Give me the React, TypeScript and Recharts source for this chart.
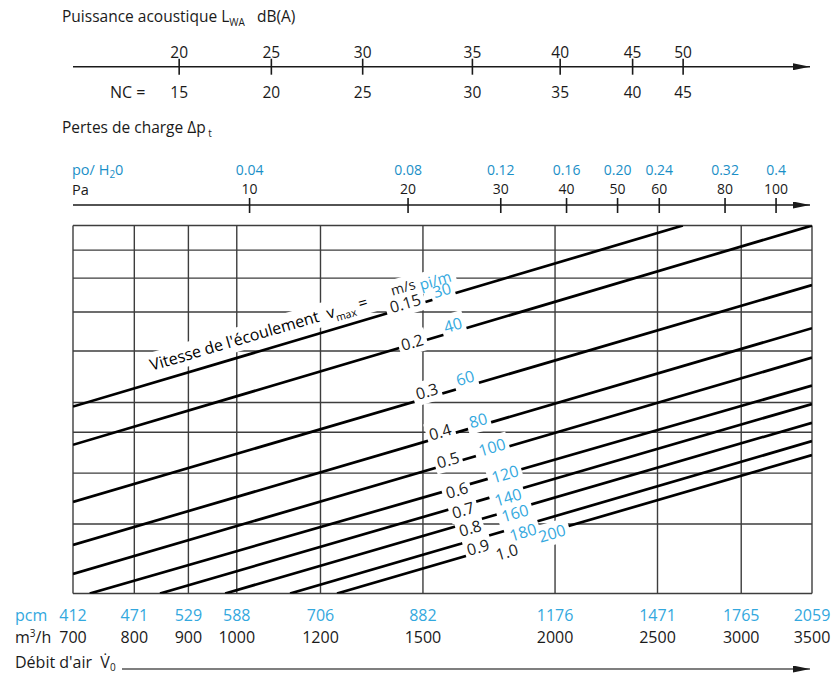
import React from 'react';
import { LineChart, Line, XAxis, YAxis, CartesianGrid, ReferenceDot } from 'recharts';

const FONT = '"Open Sans", "Noto Sans", sans-serif';
const INK = '#1a1a1a';
const GRID = '#3d3d3d';
const BLUE = '#33a8de';
const BLUE_DARK = '#1b8fc7';
const ANGLE = -16.4;

// Débit d'air (m3/h) and the matching pcm labels
const flowTicks = [700, 800, 900, 1000, 1200, 1500, 2000, 2500, 3000, 3500];
const pcmLabels = [412, 471, 529, 588, 706, 882, 1176, 1471, 1765, 2059];

// Pertes de charge: Pa and po H2O
const paTicks = [10, 20, 30, 40, 50, 60, 80, 100];
const inchLabels = ['0.04', '0.08', '0.12', '0.16', '0.20', '0.24', '0.32', '0.4'];

// Puissance acoustique, read against the pressure scale
const lwaLabels = [20, 25, 30, 35, 40, 45, 50];
const ncLabels = [15, 20, 25, 30, 35, 40, 45];
const lwaAtPa = [7.35, 11.0, 16.4, 26.5, 38.9, 53.4, 66.6];

// horizontal rows of the nomogram (relative units, bottom = 0, top = 100)
const rowGrid = [0, 18.9, 32.7, 43.8, 51.9, 65.9, 76.5, 85.7, 93.3, 100];

// velocity lines
const velocityMs = ['0.15', '0.2', '0.3', '0.4', '0.5', '0.6', '0.7', '0.8', '0.9', '1.0'];
const velocityFpm = ['30', '40', '60', '80', '100', '120', '140', '160', '180', '200'];
const startFlow = [700, 700, 700, 700, 700, 726, 846, 975, 1123, 1244];
const startRow = [50.8, 40.4, 24.9, 13.2, 5.3, 0, 0, 0, 0, 0];
const endFlow = [2642, 3500, 3500, 3500, 3500, 3500, 3500, 3500, 3500, 3500];
const endRow = [100, 100, 83.8, 72.1, 64.1, 56.5, 51.5, 46.4, 41.4, 37.6];

// where the labels sit on the lines
const msLabelFlow = [1443, 1465, 1513, 1557, 1584, 1615, 1637, 1662, 1691, 1801];
const msLabelRow = [78.9, 68.3, 55.0, 43.9, 36.3, 28.1, 22.7, 17.8, 12.6, 11.3];
const fpmLabelFlow = [1563, 1601, 1644, 1691, 1743, 1793, 1805, 1833, 1865, 1987];
const fpmLabelRow = [82.5, 73.0, 58.6, 47.1, 39.8, 32.5, 26.2, 21.9, 16.7, 16.4];

const flowKeys = Array.from(new Set([...startFlow, ...endFlow])).sort((a, b) => a - b);
const lineTable = flowKeys.map((q) => {
  const row: Record<string, number> = { q };
  velocityMs.forEach((_, i) => {
    if (startFlow[i] === q) row['v' + i] = startRow[i];
    if (endFlow[i] === q) row['v' + i] = endRow[i];
  });
  return row;
});

const lwaData = lwaAtPa.map((pa, i) => ({ pa, lwa: lwaLabels[i] }));
const paData = paTicks.map((pa) => ({ pa }));

// all labels: text, colour, size, anchor
type Lbl = { text: string; color: string; size: number; q: number; r: number };
const labels: Lbl[] = [
  { text: 'm/s', color: INK, size: 14, q: 1436, r: 83.3 },
  { text: 'pi/m', color: BLUE, size: 15, q: 1540, r: 85.2 },
  ...velocityMs.map((t, i) => ({ text: t, color: INK, size: 16, q: msLabelFlow[i], r: msLabelRow[i] })),
  ...velocityFpm.map((t, i) => ({ text: t, color: BLUE, size: 16, q: fpmLabelFlow[i], r: fpmLabelRow[i] })),
];

// first pass paints a white box, second pass the text
function rotatedLabel(l: Lbl, box: boolean) {
  return (p: any) => (
    <text
      x={p.cx}
      y={p.cy}
      transform={`rotate(${ANGLE} ${p.cx} ${p.cy})`}
      textAnchor="middle"
      dominantBaseline="central"
      fill={box ? '#fff' : l.color}
      fontSize={l.size}
      fontFamily={FONT}
      filter={box ? 'url(#boxOnly)' : undefined}
    >
      {l.text}
    </text>
  );
}

function titleLabel(box: boolean) {
  return (p: any) => (
    <text
      x={p.cx}
      y={p.cy}
      transform={`rotate(${ANGLE} ${p.cx} ${p.cy})`}
      textAnchor="start"
      fill={box ? '#fff' : '#000'}
      fontSize={16}
      fontFamily={FONT}
      filter={box ? 'url(#titleBox)' : undefined}
    >
      {"Vitesse de l'écoulement\u00A0\u00A0v"}
      <tspan fontSize={10.5} dy={5}>max</tspan>
      <tspan dy={-5}>{'\u00A0=\u00A0'}</tspan>
    </text>
  );
}

function FlowTick(p: any) {
  const i = flowTicks.indexOf(p.payload.value);
  return (
    <g fontFamily={FONT} fontSize={16} textAnchor="middle">
      <text x={p.x} y={p.y + 21.5} dominantBaseline="central" fill={BLUE}>{pcmLabels[i]}</text>
      <text x={p.x} y={p.y + 43} dominantBaseline="central" fill={INK}>{p.payload.value}</text>
    </g>
  );
}

function PaTick(p: any) {
  const i = paTicks.indexOf(p.payload.value);
  return (
    <g fontFamily={FONT} fontSize={14} textAnchor="middle">
      <line x1={p.x} x2={p.x} y1={p.y - 7} y2={p.y + 8} stroke={INK} strokeWidth={1.6} />
      <text x={p.x} y={p.y - 35.5} dominantBaseline="central" fill={BLUE_DARK}>{inchLabels[i]}</text>
      <text x={p.x} y={p.y - 16.5} dominantBaseline="central" fill={INK}>{p.payload.value}</text>
    </g>
  );
}

function LwaTick(p: any) {
  const i = lwaAtPa.indexOf(p.payload.value);
  return (
    <g fontFamily={FONT} fontSize={15.5} textAnchor="middle" fill={INK}>
      <line x1={p.x} x2={p.x} y1={p.y - 8} y2={p.y + 8} stroke={INK} strokeWidth={1.6} />
      <text x={p.x} y={p.y - 15} dominantBaseline="central">{lwaLabels[i]}</text>
      <text x={p.x} y={p.y + 25} dominantBaseline="central">{ncLabels[i]}</text>
    </g>
  );
}

function ArrowDefs({ id }: { id: string }) {
  return (
    <defs>
      <marker id={id} viewBox="0 0 17 7" refX="17" refY="3.5" markerWidth="17" markerHeight="7" markerUnits="userSpaceOnUse" orient="auto">
        <path d="M0,0 L17,3.5 L0,7 z" fill={INK} />
      </marker>
    </defs>
  );
}

const txt = (left: number, centerY: number, size = 16, color = INK): React.CSSProperties => ({
  position: 'absolute',
  left,
  top: centerY - 10,
  lineHeight: '20px',
  fontSize: size,
  color,
  whiteSpace: 'nowrap',
  fontFamily: FONT,
});

const sub: React.CSSProperties = { fontSize: 10, position: 'relative', top: 4 };

export default function App() {
  return (
    <div style={{ position: 'absolute', left: 0, top: 0, width: 835, height: 675, background: '#fff', overflow: 'hidden' }}>
      <div style={txt(62, 16, 15.5)}>
        Puissance acoustique L<span style={sub}>WA</span>&nbsp;&nbsp; dB(A)
      </div>
      <div style={txt(110, 91.7, 16)}>NC =</div>
      <div style={txt(62, 127, 15.5)}>
        Pertes de charge Δp<span style={sub}>&nbsp;t</span>
      </div>
      <div style={txt(72, 169.5, 14.5, BLUE_DARK)}>
        po/ H<span style={{ fontSize: 10, position: 'relative', top: 3 }}>2</span>0
      </div>
      <div style={txt(72, 189.5, 14.5)}>Pa</div>
      <div style={txt(15, 615, 16, BLUE)}>pcm</div>
      <div style={txt(15, 637, 16)}>
        m<span style={{ fontSize: 10, position: 'relative', top: -6 }}>3</span>/h
      </div>
      <div style={txt(15, 662, 16)}>
        Débit d'air&nbsp; V̇<span style={{ fontSize: 10, position: 'relative', top: 3 }}>0</span>
      </div>

      {/* Puissance acoustique / NC scale */}
      <div style={{ position: 'absolute', left: 0, top: 28 }}>
        <LineChart width={835} height={80} data={lwaData} margin={{ top: 0, right: 25, bottom: 0, left: 73 }}>
          <ArrowDefs id="arrowLwa" />
          <XAxis
            dataKey="pa"
            type="number"
            scale="log"
            domain={[4.62, 116]}
            allowDataOverflow
            ticks={lwaAtPa}
            interval={0}
            height={41.3}
            tickSize={0}
            tickMargin={0}
            tickLine={false}
            axisLine={{ stroke: INK, strokeWidth: 1.6, markerEnd: 'url(#arrowLwa)' }}
            tick={(p: any) => <LwaTick {...p} />}
          />
          <YAxis hide />
        </LineChart>
      </div>

      {/* pressure scale */}
      <div style={{ position: 'absolute', left: 0, top: 140 }}>
        <LineChart width={835} height={80} data={paData} margin={{ top: 0, right: 25, bottom: 0, left: 73 }}>
          <ArrowDefs id="arrowPa" />
          <XAxis
            dataKey="pa"
            type="number"
            scale="log"
            domain={[4.62, 116]}
            allowDataOverflow
            ticks={paTicks}
            interval={0}
            height={15}
            tickSize={0}
            tickMargin={0}
            tickLine={false}
            axisLine={{ stroke: INK, strokeWidth: 1.6, markerEnd: 'url(#arrowPa)' }}
            tick={(p: any) => <PaTick {...p} />}
          />
          <YAxis hide />
        </LineChart>
      </div>

      {/* nomogram */}
      <div style={{ position: 'absolute', left: 0, top: 208 }}>
        <LineChart width={835} height={460} data={lineTable} margin={{ top: 17.5, right: 23, bottom: 0, left: 73 }}>
          <defs>
            <filter id="boxOnly" x="-0.12" y="0" width="1.24" height="1">
              <feFlood floodColor="#ffffff" />
            </filter>
            <filter id="titleBox" x="-0.01" y="0" width="1.02" height="0.92">
              <feFlood floodColor="#ffffff" />
            </filter>
          </defs>
          <CartesianGrid stroke={GRID} strokeWidth={1.4} horizontalValues={rowGrid} verticalValues={flowTicks} />
          <XAxis
            dataKey="q"
            type="number"
            scale="log"
            domain={[700, 3500]}
            allowDataOverflow
            ticks={flowTicks}
            interval={0}
            height={74.5}
            tickSize={0}
            tickMargin={0}
            tickLine={false}
            axisLine={false}
            tick={(p: any) => <FlowTick {...p} />}
          />
          <YAxis hide type="number" domain={[0, 100]} ticks={rowGrid} allowDataOverflow />
          {velocityMs.map((v, i) => (
            <Line
              key={v}
              type="linear"
              dataKey={'v' + i}
              stroke="#000"
              strokeWidth={2.7}
              dot={false}
              activeDot={false}
              connectNulls
              isAnimationActive={false}
            />
          ))}
          <ReferenceDot x={831} y={60.5} r={1} shape={titleLabel(true)} zIndex={1500} />
          {labels.map((l) => (
            <ReferenceDot key={'b' + l.text} x={l.q} y={l.r} r={1} shape={rotatedLabel(l, true)} zIndex={1500} />
          ))}
          <ReferenceDot x={831} y={60.5} r={1} shape={titleLabel(false)} zIndex={1500} />
          {labels.map((l) => (
            <ReferenceDot key={'t' + l.text} x={l.q} y={l.r} r={1} shape={rotatedLabel(l, false)} zIndex={1500} />
          ))}
        </LineChart>
      </div>

      {/* Débit d'air arrow */}
      <svg style={{ position: 'absolute', left: 0, top: 660 }} width={835} height={16}>
        <ArrowDefs id="arrowFlow" />
        <line x1={122} x2={810} y1={9} y2={9} stroke="#555" strokeWidth={1.6} markerEnd="url(#arrowFlow)" />
      </svg>
    </div>
  );
}
